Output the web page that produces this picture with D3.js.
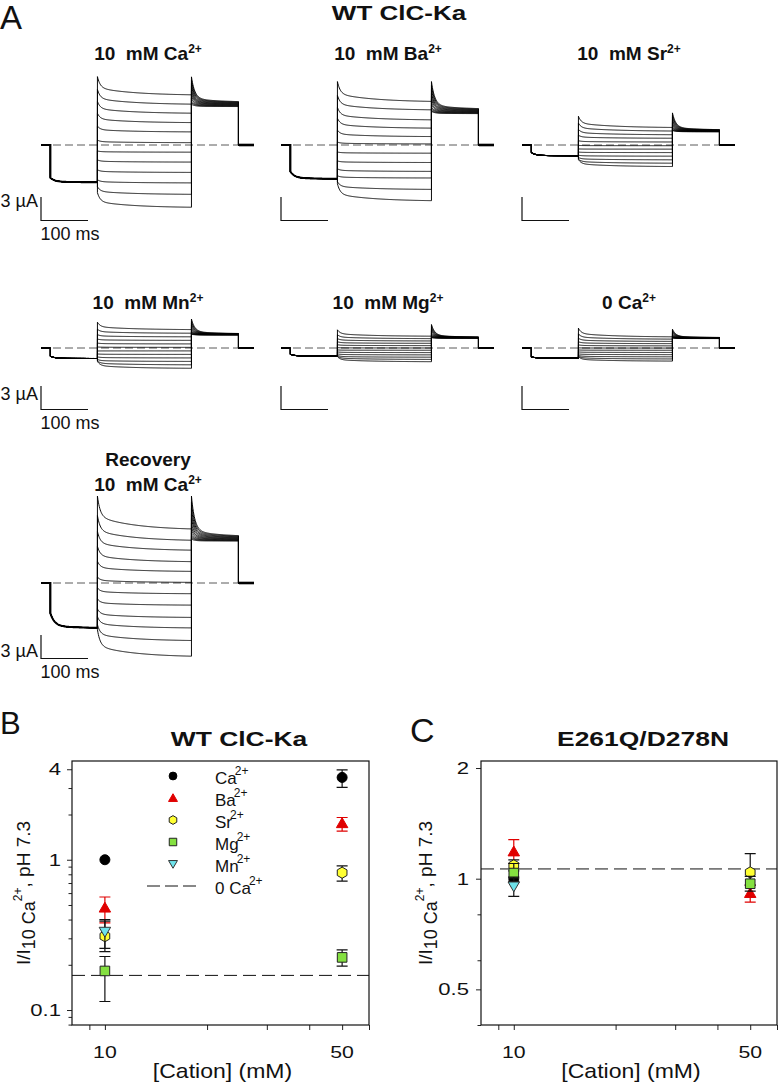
<!DOCTYPE html>
<html>
<head>
<meta charset="utf-8">
<script src="https://cdn.jsdelivr.net/npm/d3@7"></script>
<style>
  body { margin: 0; background: #fff; }
  svg { display: block; font-family: Arial, "Liberation Sans", sans-serif; }
  text { white-space: pre; fill: #111; }
</style>
</head>
<body>
<svg id="fig" width="778" height="1085"></svg>
<script>
// ---------- Panel A: current traces, values in µA ----------
// sweeps listed from the top trace to the bottom trace
const recTitles = ['10  mM Ca', '10  mM Ba', '10  mM Sr', '10  mM Mn', '10  mM Mg', '0 Ca', '10  mM Ca'];
const preStart = [-4.18, -3.38, -0.97, -1.05, -0.80, -1.14, -3.87];
const preEnd = [-4.77, -4.34, -1.39, -1.35, -1.05, -1.30, -5.77];
const testStart = [
  [8.73, 7.09, 5.57, 4.05, 2.41, 0.63, -0.76, -1.90, -3.16, -4.43, -5.32, -6.08],
  [8.10, 6.33, 4.81, 3.42, 1.90, 0.38, -0.89, -2.03, -3.04, -3.92, -4.68, -4.94],
  [3.67, 2.80, 2.00, 1.25, 0.55, -0.05, -0.50, -0.90, -1.30, -1.60, -1.80, -1.85],
  [3.29, 2.40, 1.71, 1.14, 0.63, 0.13, -0.38, -0.76, -1.14, -1.46, -1.65, -1.71],
  [2.32, 1.70, 1.20, 0.80, 0.42, 0.05, -0.25, -0.50, -0.75, -0.95, -1.05, -1.10],
  [2.53, 1.80, 1.25, 0.80, 0.40, 0.02, -0.25, -0.50, -0.75, -0.95, -1.05, -1.10],
  [11.1, 8.60, 6.58, 4.68, 2.78, 0.76, -0.63, -2.03, -3.30, -4.30, -5.32, -5.95]
];
const testEnd = [
  [6.33, 5.15, 4.01, 2.82, 1.65, 0.29, -0.92, -2.19, -3.51, -4.85, -6.33, -8.01],
  [5.48, 4.43, 3.16, 2.11, 1.05, 0.13, -1.05, -2.24, -3.38, -4.22, -5.70, -7.18],
  [2.19, 1.75, 1.29, 0.85, 0.38, -0.09, -0.53, -0.97, -1.43, -1.90, -2.34, -2.78],
  [2.32, 1.87, 1.42, 0.97, 0.52, 0.08, -0.37, -0.82, -1.27, -1.72, -2.16, -2.62],
  [1.48, 1.18, 0.89, 0.59, 0.30, 0.00, -0.29, -0.59, -0.88, -1.18, -1.47, -1.77],
  [1.39, 1.11, 0.83, 0.55, 0.27, -0.01, -0.29, -0.57, -0.85, -1.13, -1.41, -1.69],
  [6.76, 5.35, 4.11, 2.66, 1.44, 0.06, -1.39, -2.85, -4.43, -5.78, -7.41, -9.46]
];
const tailStart = [
  [8.7, 8.3, 7.9, 7.5, 7.1, 6.8, 6.5, 6.2, 5.9, 5.6, 5.4, 5.2],
  [8.1, 7.6, 7.1, 6.6, 6.2, 5.8, 5.4, 5.1, 4.8, 4.6, 4.4, 4.3],
  [4.1, 3.8, 3.5, 3.2, 2.95, 2.7, 2.5, 2.3, 2.15, 2.0, 1.9, 1.85],
  [3.7, 3.4, 3.1, 2.85, 2.6, 2.4, 2.2, 2.05, 1.95, 1.85, 1.8, 1.75],
  [3.0, 2.75, 2.5, 2.3, 2.1, 1.9, 1.75, 1.6, 1.5, 1.42, 1.36, 1.32],
  [2.4, 2.2, 2.05, 1.9, 1.75, 1.62, 1.52, 1.44, 1.38, 1.33, 1.3, 1.28],
  [11.1, 10.3, 9.5, 8.8, 8.2, 7.6, 7.1, 6.7, 6.3, 6.0, 5.8, 5.6]
];
const tailEnd = [
  [5.45, 5.4, 5.35, 5.3, 5.25, 5.2, 5.15, 5.1, 5.05, 5.0, 4.95, 4.9],
  [4.55, 4.5, 4.45, 4.4, 4.35, 4.3, 4.25, 4.2, 4.15, 4.1, 4.05, 4.0],
  [1.9, 1.88, 1.86, 1.84, 1.82, 1.8, 1.78, 1.76, 1.74, 1.72, 1.7, 1.68],
  [1.8, 1.78, 1.76, 1.75, 1.74, 1.73, 1.72, 1.71, 1.7, 1.68, 1.66, 1.65],
  [1.36, 1.35, 1.34, 1.33, 1.32, 1.31, 1.3, 1.29, 1.28, 1.27, 1.25, 1.24],
  [1.32, 1.31, 1.3, 1.29, 1.28, 1.27, 1.26, 1.25, 1.24, 1.23, 1.21, 1.2],
  [5.9, 5.85, 5.8, 5.75, 5.7, 5.65, 5.6, 5.55, 5.5, 5.45, 5.4, 5.35]
];
// pulse protocol, ms
const tHoldEnd = 20, tTest = 120, tTail = 320, tTailEnd = 420, tEnd = 453;

// ---------- Panels B and C: I / I(10 mM Ca), pH 7.3 ----------
const cations = ['Ca', 'Ba', 'Sr', 'Mg', 'Mn'];
const concs = [10, 50];
const wt10 = [1.00, 0.48, 0.31, 0.182, 0.332];
const wt10Lo = [null, 0.38, 0.245, 0.114, 0.257];
const wt10Hi = [null, 0.565, 0.39, 0.227, 0.40];
const wt50 = [3.53, 1.75, 0.82, 0.224, null];
const wt50Lo = [3.03, 1.55, 0.72, 0.196, null];
const wt50Hi = [3.96, 1.91, 0.91, 0.251, null];
const wtZeroCa = 0.170;
const mut10 = [1.00, 1.186, 1.087, 1.036, 0.953];
const mut10Lo = [null, 1.10, 1.05, 0.983, 0.895];
const mut10Hi = [null, 1.277, 1.125, 1.10, 1.01];
const mut50 = [null, 0.914, 1.04, 0.969, null];
const mut50Lo = [null, 0.864, 0.96, 0.925, null];
const mut50Hi = [null, 0.96, 1.17, 1.015, null];
const mutZeroCa = 1.063;

const svg = d3.select('#fig');

// text helper, sx stretches glyphs horizontally
function label(parent, x, y, size, opts = {}) {
  const t = parent.append('text')
    .attr('transform', `translate(${x},${y}) scale(${opts.sx || 1},1)` + (opts.rotate ? ` rotate(${opts.rotate})` : ''))
    .attr('text-anchor', opts.anchor || 'middle')
    .style('font-size', size + 'px')
    .style('font-weight', opts.bold ? 'bold' : 'normal');
  return t;
}
function sup(t, str, size, dy, dx = 0) {
  t.append('tspan').attr('dy', dy).attr('dx', dx).style('font-size', size + 'px').text(str);
}

// panel letters + main title
label(svg, 0, 29, 33, { anchor: 'start' }).text('A');
label(svg, 0, 734, 31, { anchor: 'start' }).text('B');
label(svg, 410, 742, 34, { anchor: 'start' }).text('C');
label(svg, 399, 19.5, 20, { bold: true, sx: 1.3 }).text('WT ClC-Ka');

// ---------- Panel A ----------
const recX0 = [41, 281, 522, 41, 281, 522, 41];
const recY0 = [145, 145, 145, 348, 348, 348, 583];
const titleY = [60, 60, 60, 309, 309, 309, 491];
const barTop = [197, 197, 197, 386, 386, 386, 635];
const pxPerMs = 213 / tEnd;
const pxPerUA = 23.5 / 3;

function relax(a, b, dt, tauF, tauS, fs) {
  return b + (a - b) * ((1 - fs) * Math.exp(-dt / tauF) + fs * Math.exp(-dt / tauS));
}

function sweep(r, k) {
  const pts = [[0, 0], [tHoldEnd, 0]];
  for (let t = tHoldEnd; t <= tTest; t += 1) pts.push([t, relax(preStart[r], preEnd[r], t - tHoldEnd, 9, 60, 0.15)]);
  for (let t = tTest; t <= tTail; t += 1) pts.push([t, relax(testStart[r][k], testEnd[r][k], t - tTest, 6, 80, 0.4)]);
  for (let t = tTail; t <= tTailEnd; t += 1) pts.push([t, relax(tailStart[r][k], tailEnd[r][k], t - tTail, 7, 60, 0.15)]);
  pts.push([tTailEnd, 0], [tEnd, 0]);
  return pts;
}

recTitles.forEach((title, r) => {
  const x = d3.scaleLinear().domain([0, tEnd]).range([recX0[r], recX0[r] + tEnd * pxPerMs]);
  const y = d3.scaleLinear().domain([0, 3]).range([recY0[r], recY0[r] - 3 * pxPerUA]);
  const g = svg.append('g');
  const line = d3.line().x(d => x(d[0])).y(d => y(d[1]));

  // zero current
  g.append('line')
    .attr('x1', x(0)).attr('x2', x(tEnd)).attr('y1', y(0)).attr('y2', y(0))
    .attr('stroke', '#5a5a5a').attr('stroke-width', 1).attr('stroke-dasharray', '8,4');

  d3.range(testStart[r].length).forEach(k => {
    g.append('path').attr('d', line(sweep(r, k)))
      .attr('fill', 'none').attr('stroke', '#000').attr('stroke-width', 0.95);
  });

  // overlapping sweeps make holding and prepulse look heavier
  const heavy = Math.abs(preEnd[r]) > 3 ? 2 : 1.2;
  const pre = sweep(r, 0).filter(d => d[0] <= tTest - 1);
  g.append('path').attr('d', line(pre)).attr('fill', 'none').attr('stroke', '#000').attr('stroke-width', heavy);
  g.append('path').attr('d', line([[tTailEnd + 1, 0], [tEnd, 0]])).attr('fill', 'none').attr('stroke', '#000').attr('stroke-width', heavy + 0.6);

  // title
  if (r === 6) label(g, recX0[r] + 107, titleY[r] - 25, 19, { bold: true }).text('Recovery');
  const tt = label(g, recX0[r] + 107, titleY[r], 19, { bold: true });
  tt.append('tspan').text(title);
  sup(tt, '2+', 12, -7);

  // scale bar: 3 µA, 100 ms
  const bx = recX0[r];
  const bh = y(0) - y(3);
  const bw = x(100) - x(0);
  g.append('path')
    .attr('d', `M${bx},${barTop[r]}V${barTop[r] + bh}H${bx + bw}`)
    .attr('fill', 'none').attr('stroke', '#111').attr('stroke-width', 1.2);
  if (r % 3 === 0) {
    const lblOff = [10, 14, 22][Math.floor(r / 3)];
    label(g, bx - 3, barTop[r] + lblOff, 18, { anchor: 'end' }).text('3 µA');
    label(g, bx - 0.5, barTop[r] + bh + 19, 18, { anchor: 'start' }).text('100 ms');
  }
});

// ---------- Panels B and C ----------
const fills = ['#000000', '#e00000', '#ffff33', '#84e040', '#6ee2ea'];
const strokes = ['#000000', '#e00000', '#222', '#222', '#333'];
const shapes = ['circle', 'up', 'hex', 'square', 'down'];
const shapeSize = [5, 5.2, 5.6, 4.8, 5.2];

function markerPath(kind, s) {
  const p = d3.path();
  if (kind === 'circle') { p.arc(0, 0, s, 0, 2 * Math.PI); }
  else if (kind === 'up') { p.moveTo(0, -s * 1.05); p.lineTo(s * 1.1, s * 0.85); p.lineTo(-s * 1.1, s * 0.85); p.closePath(); }
  else if (kind === 'down') { p.moveTo(0, s * 1.05); p.lineTo(s * 1.1, -s * 0.85); p.lineTo(-s * 1.1, -s * 0.85); p.closePath(); }
  else if (kind === 'square') { p.rect(-s, -s, 2 * s, 2 * s); }
  else {
    for (let i = 0; i < 6; i++) {
      const a = -Math.PI / 2 + i * Math.PI / 3;
      if (i === 0) p.moveTo(s * Math.cos(a), s * Math.sin(a)); else p.lineTo(s * Math.cos(a), s * Math.sin(a));
    }
    p.closePath();
  }
  return p.toString();
}

function drawPanel(o) {
  const g = svg.append('g');
  const [x0, x1] = o.x.range();
  const [yb, yt] = o.y.range();

  const yMinor = g.append('g').attr('transform', `translate(${x0},0)`)
    .call(d3.axisLeft(o.y).tickValues(o.yMinor).tickSize(3.5).tickFormat(''));
  const yMajor = g.append('g').attr('transform', `translate(${x0},0)`)
    .call(d3.axisLeft(o.y).tickValues(o.yMajor).tickSize(5).tickFormat(''));
  const xTicks = g.append('g').attr('transform', `translate(0,${yb})`)
    .call(d3.axisBottom(o.x).tickValues([9, 10, 20, 30, 40, 50, 60]).tickSize(5).tickFormat(''));
  [yMinor, yMajor, xTicks].forEach(a => {
    a.select('.domain').remove();
    a.selectAll('line').attr('stroke', '#222').attr('stroke-width', 1);
  });

  o.yMajor.forEach(v => label(g, o.yLabelX, o.y(v) + 6, 17, { anchor: 'end', sx: 1.3 }).text(String(v)));
  concs.forEach(c => label(g, o.x(c), yb + 33, 17, { sx: 1.25 }).text(String(c)));
  label(g, (x0 + x1) / 2 + 2, yb + 53, 20, { sx: 1.15 }).text('[Cation] (mM)');

  const yl = label(g, o.yTitleX, (yb + yt) / 2, 19, { rotate: -90 });
  yl.append('tspan').text('I/I');
  yl.append('tspan').attr('dy', 5).style('font-size', '18px').text('10 Ca');
  sup(yl, '2+', 12, -13);
  yl.append('tspan').attr('dy', 8).text(', pH 7.3');

  label(g, o.titleX, 746, 21, { bold: true, sx: 1.26 }).text(o.title);

  // 0 Ca2+ reference level
  g.append('line').attr('x1', x0).attr('x2', x1).attr('y1', o.y(o.zero)).attr('y2', o.y(o.zero))
    .attr('stroke', '#111').attr('stroke-width', 1).attr('stroke-dasharray', '13,6');

  // points with error bars
  const series = [[o.m10, o.lo10, o.hi10], [o.m50, o.lo50, o.hi50]];
  cations.forEach((cat, i) => {
    series.forEach(([m, lo, hi], j) => {
      if (m[i] == null) return;
      const cx = o.x(concs[j]);
      const col = i === 1 ? '#e00000' : '#111';
      if (lo[i] != null) {
        g.append('path')
          .attr('d', `M${cx},${o.y(lo[i])}V${o.y(hi[i])}M${cx - 5.5},${o.y(lo[i])}h11M${cx - 5.5},${o.y(hi[i])}h11`)
          .attr('stroke', col).attr('stroke-width', 1.2).attr('fill', 'none');
      }
      g.append('path').attr('d', markerPath(shapes[i], shapeSize[i]))
        .attr('transform', `translate(${cx},${o.y(m[i])})`)
        .attr('fill', fills[i]).attr('stroke', strokes[i]).attr('stroke-width', 1);
    });
  });

  g.append('rect').attr('x', x0).attr('y', yt).attr('width', x1 - x0).attr('height', yb - yt)
    .attr('fill', 'none').attr('stroke', '#111').attr('stroke-width', 1.2);
  return g;
}

const gB = drawPanel({
  title: 'WT ClC-Ka', titleX: 239,
  x: d3.scaleLog().domain([8, 60]).range([72, 369]),
  y: d3.scaleLog().domain([0.0795, 4.54]).range([1025, 761]),
  yMajor: [0.1, 1, 4],
  yMinor: [0.08, 0.09, 0.2, 0.3, 0.4, 0.5, 0.6, 0.7, 0.8, 0.9, 2, 3],
  yLabelX: 61, yTitleX: 30,
  m10: wt10, lo10: wt10Lo, hi10: wt10Hi, m50: wt50, lo50: wt50Lo, hi50: wt50Hi, zero: wtZeroCa
});

drawPanel({
  title: 'E261Q/D278N', titleX: 643,
  x: d3.scaleLog().domain([8, 60]).range([481, 777]),
  y: d3.scaleLog().domain([0.40, 2.09]).range([1025, 761]),
  yMajor: [0.5, 1, 2],
  yMinor: [0.4, 0.6, 0.8],
  yLabelX: 469, yTitleX: 432,
  m10: mut10, lo10: mut10Lo, hi10: mut10Hi, m50: mut50, lo50: mut50Lo, hi50: mut50Hi, zero: mutZeroCa
});

// legend (panel B)
const legY = d3.range(6).map(i => 776 + i * 22);
cations.forEach((cat, i) => {
  gB.append('path').attr('d', markerPath(shapes[i], shapeSize[i] * 0.78))
    .attr('transform', `translate(173,${legY[i]})`)
    .attr('fill', fills[i]).attr('stroke', strokes[i]).attr('stroke-width', 1);
  const t = label(gB, 215, legY[i] + 7.5, 17, { anchor: 'start' });
  t.append('tspan').text(cat);
  sup(t, '2+', 12, -9, -2);
});
gB.append('line').attr('x1', 147).attr('x2', 196).attr('y1', legY[5]).attr('y2', legY[5])
  .attr('stroke', '#111').attr('stroke-width', 1).attr('stroke-dasharray', '13,5');
const t0 = label(gB, 215, legY[5] + 7.5, 17, { anchor: 'start' });
t0.append('tspan').text('0 Ca');
sup(t0, '2+', 12, -9, -2);
</script>
</body>
</html>
